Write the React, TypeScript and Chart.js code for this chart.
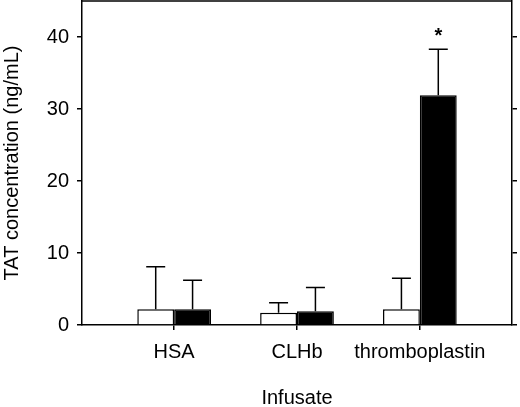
import React, { useEffect, useRef } from "react";
import { Chart, registerables } from "chart.js";

Chart.register(...registerables);

const categories = ["HSA", "CLHb", "thromboplastin"];
const categoryPositions = [1, 2, 3];
const controlValues = [2.2, 1.7, 2.2];
const controlErrors = [5.9, 1.4, 4.3];
const infusedValues = [2.2, 1.9, 31.9];
const infusedErrors = [4.0, 3.3, 6.4];
const infusedMarks = ["", "", "*"];
const yTicks = [0, 10, 20, 30, 40];

const FONT = "'Liberation Sans', Arial, Helvetica, sans-serif";
const FONT_SIZE = 20;

const errorBarPlugin = {
  id: "errorBars",
  afterDatasetsDraw(chart: any) {
    const ctx = chart.ctx;
    const yScale = chart.scales.y;
    chart.data.datasets.forEach((ds: any, i: number) => {
      const meta = chart.getDatasetMeta(i);
      meta.data.forEach((el: any, j: number) => {
        const v = ds.data[j].y;
        const e = ds.errors[j];
        const yTop = yScale.getPixelForValue(v + e);
        const x = el.x;
        ctx.save();
        ctx.strokeStyle = "#000";
        ctx.lineWidth = 1.5;
        ctx.beginPath();
        ctx.moveTo(x, el.y);
        ctx.lineTo(x, yTop);
        ctx.moveTo(x - 9.5, yTop);
        ctx.lineTo(x + 9.5, yTop);
        ctx.stroke();
        const mark = ds.marks ? ds.marks[j] : "";
        if (mark) {
          ctx.fillStyle = "#000";
          ctx.font = `bold 20px ${FONT}`;
          ctx.textAlign = "center";
          ctx.textBaseline = "alphabetic";
          ctx.fillText(mark, x, yTop - 7);
        }
        ctx.restore();
      });
    });
    const { left, right, top } = chart.chartArea;
    ctx.save();
    ctx.strokeStyle = "#000";
    ctx.lineWidth = 1.5;
    ctx.beginPath();
    ctx.moveTo(left, top);
    ctx.lineTo(right, top);
    ctx.stroke();
    ctx.restore();
  },
};

export default function App() {
  const ref = useRef<HTMLCanvasElement>(null);

  useEffect(() => {
    if (!ref.current) return;
    const chart = new Chart(ref.current, {
      type: "bar",
      data: {
        datasets: [
          {
            label: "control",
            data: categoryPositions.map((x, i) => ({ x, y: controlValues[i] })),
            errors: controlErrors,
            backgroundColor: "#ffffff",
            borderColor: "#000000",
            borderWidth: 1.5,
          } as any,
          {
            label: "infused",
            data: categoryPositions.map((x, i) => ({ x, y: infusedValues[i] })),
            errors: infusedErrors,
            marks: infusedMarks,
            backgroundColor: "#000000",
            borderColor: "#000000",
            borderWidth: 1.5,
          } as any,
        ],
      },
      options: {
        animation: false,
        responsive: false,
        devicePixelRatio: 1,
        layout: { padding: { top: 1, left: 0, right: 0, bottom: 0 } },
        datasets: { bar: { categoryPercentage: 0.6, barPercentage: 1.0 } },
        plugins: { legend: { display: false }, tooltip: { enabled: false } },
        scales: {
          x: {
            type: "linear",
            position: "bottom",
            offset: false,
            min: 0.25,
            max: 3.75,
            afterBuildTicks: (s: any) => {
              s.ticks = categoryPositions.map((v) => ({ value: v }));
            },
            afterFit: (s: any) => {
              s.height = 82;
              s.paddingLeft = 0;
              s.paddingRight = 0;
            },
            grid: { offset: false, drawOnChartArea: false, drawTicks: true, tickLength: 5, color: "#000", lineWidth: 1.5 },
            border: { display: true, color: "#000", width: 1.5 },
            ticks: {
              color: "#000",
              font: { family: FONT, size: FONT_SIZE },
              padding: 10,
              maxRotation: 0,
              autoSkip: false,
              callback: (v: any) => {
                const idx = categoryPositions.indexOf(Number(v));
                return idx >= 0 ? categories[idx] : "";
              },
            },
            title: {
              display: true,
              text: "Infusate",
              color: "#000",
              font: { family: FONT, size: FONT_SIZE },
              padding: { top: 0, bottom: -3 },
            },
          },
          y: {
            type: "linear",
            position: "left",
            min: 0,
            max: 45,
            afterBuildTicks: (s: any) => {
              s.ticks = yTicks.map((v) => ({ value: v }));
            },
            afterFit: (s: any) => {
              s.width = 82;
              s.paddingTop = 0;
              s.paddingBottom = 0;
            },
            grid: { drawOnChartArea: false, drawTicks: true, tickLength: 5, color: "#000", lineWidth: 1.5 },
            border: { display: true, color: "#000", width: 1.5 },
            ticks: {
              color: "#000",
              font: { family: FONT, size: FONT_SIZE },
              padding: 8,
            },
            title: {
              display: true,
              text: "TAT concentration (ng/mL)",
              color: "#000",
              font: { family: FONT, size: FONT_SIZE },
              padding: { top: 0, bottom: 0 },
            },
          },
          y2: {
            type: "linear",
            position: "right",
            min: 0,
            max: 45,
            afterBuildTicks: (s: any) => {
              s.ticks = yTicks.map((v) => ({ value: v }));
            },
            afterFit: (s: any) => {
              s.width = 8;
              s.paddingTop = 0;
              s.paddingBottom = 0;
            },
            grid: { drawOnChartArea: false, drawTicks: true, tickLength: 5, color: "#000", lineWidth: 1.5 },
            border: { display: true, color: "#000", width: 1.5 },
            ticks: { display: false },
          },
        },
      } as any,
      plugins: [errorBarPlugin],
    });
    return () => chart.destroy();
  }, []);

  return (
    <div style={{ position: "absolute", left: 0, top: 0, width: 520, height: 407, background: "#fff" }}>
      <canvas ref={ref} width={520} height={407} style={{ width: 520, height: 407, display: "block" }} />
    </div>
  );
}
